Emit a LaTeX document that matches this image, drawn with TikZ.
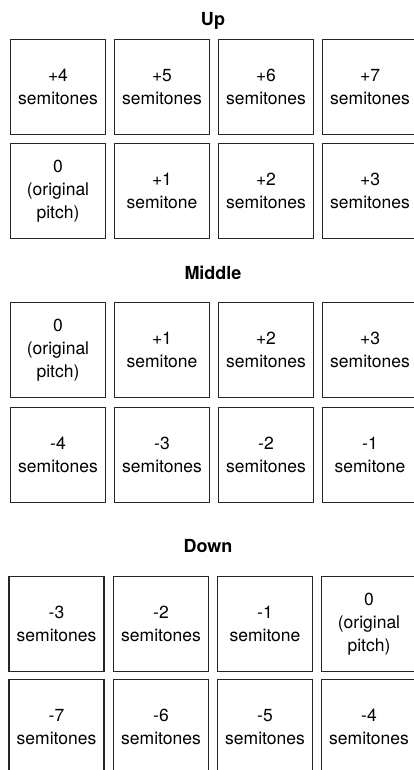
\documentclass[tikz,border=0pt]{standalone}
\usepackage{fontspec}
\setmainfont{TeX Gyre Heros}
\begin{document}
\begin{tikzpicture}[x=1pt, y=-1pt,
    pad/.style={draw=black!85, line width=1.1pt, minimum width=95pt, minimum height=95pt,
        inner sep=0pt, align=center, font=\fontsize{17.5}{23}\selectfont},
    title/.style={font=\fontsize{18}{22}\selectfont\bfseries}
]
\useasboundingbox (0,0) rectangle (413,770);

% Up
\node[title] (tup) at (213,21) {Up};
\node[pad] (u1) at (58,87)  {+4\\semitones};
\node[pad] (u2) at (162,87) {+5\\semitones};
\node[pad] (u3) at (266,87) {+6\\semitones};
\node[pad] (u4) at (370,87) {+7\\semitones};
\node[pad] (u5) at (58,191)  {0\\(original\\pitch)};
\node[pad] (u6) at (162,191) {+1\\semitone};
\node[pad] (u7) at (266,191) {+2\\semitones};
\node[pad] (u8) at (370,191) {+3\\semitones};

% Middle
\node[title] (tmid) at (213,273) {Middle};
\node[pad] (m1) at (58,350)  {0\\(original\\pitch)};
\node[pad] (m2) at (162,350) {+1\\semitone};
\node[pad] (m3) at (266,350) {+2\\semitones};
\node[pad] (m4) at (370,350) {+3\\semitones};
\node[pad] (m5) at (58,455)  {-4\\semitones};
\node[pad] (m6) at (162,455) {-3\\semitones};
\node[pad] (m7) at (266,455) {-2\\semitones};
\node[pad] (m8) at (370,455) {-1\\semitone};

% Down
\node[title] (tdown) at (208,546) {Down};
\node[pad] (d1) at (56.5,624) {-3\\semitones};
\node[pad] (d2) at (161,624)  {-2\\semitones};
\node[pad] (d3) at (265,624)  {-1\\semitone};
\node[pad] (d4) at (369,624)  {0\\(original\\pitch)};
\node[pad] (d5) at (56.5,727) {-7\\semitones};
\node[pad] (d6) at (161,727)  {-6\\semitones};
\node[pad] (d7) at (265,727)  {-5\\semitones};
\node[pad] (d8) at (369,727)  {-4\\semitones};
\end{tikzpicture}
\end{document}
